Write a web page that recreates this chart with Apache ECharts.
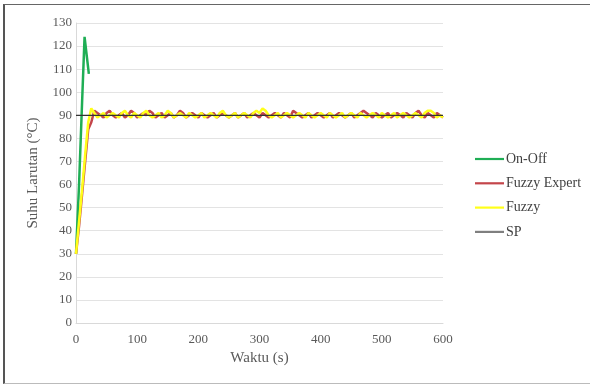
<!DOCTYPE html>
<html>
<head>
<meta charset="utf-8">
<script src="https://cdn.jsdelivr.net/npm/echarts@6/dist/echarts.min.js"></script>
<style>
  html, body { margin: 0; padding: 0; background: #fff; }
  #frame { position: absolute; left: 3px; top: 4px; width: 620px; height: 378px;
           border-left: 2px solid #555; border-top: 1px solid #666; border-bottom: 1px solid #bbb; }
  #chart { position: absolute; left: 0; top: 0; width: 590px; height: 385px; }
</style>
</head>
<body>
<div id="frame"></div>
<div id="chart"></div>
<script>
// Temperature response of the solution (°C) over time (s)
const seriesNames = ['On-Off', 'Fuzzy Expert', 'Fuzzy', 'SP'];
const setPoint = 90;
const yTicks = [0, 130, 10];   // min, max, interval
const xTicks = [0, 600, 100];

// On-Off controller: [time s, temperature °C]
const onOffTime = [0, 5, 10, 14, 21];
const onOffTemp = [30, 60, 96, 124, 108];

// Fuzzy Expert and Fuzzy controllers, sampled every 5 s from 0 to 600 s
const sampleStep = 5;
const fuzzyExpertTemp = [
  30, 42, 56, 70, 84, 87, 92, 91, 90, 89, 91, 92, 90, 89, 90, 91, 89, 90, 92, 91,
  89, 90, 91, 90, 92, 91, 89, 90, 91, 89, 90, 91, 89, 90, 92, 91, 89, 90, 91, 90,
  89, 91, 90, 89, 90, 91, 89, 90, 91, 90, 89, 90, 91, 89, 90, 91, 89, 90, 91, 90,
  89, 91, 90, 89, 90, 91, 90, 89, 91, 90, 89, 92, 91, 90, 89, 90, 91, 89, 90, 91,
  90, 89, 90, 91, 89, 90, 91, 90, 89, 90, 91, 89, 90, 91, 92, 91, 90, 89, 91, 90,
  89, 90, 91, 89, 90, 91, 90, 89, 91, 90, 89, 91, 92, 90, 89, 91, 90, 89, 91, 90,
  89
];
const fuzzyTemp = [
  30, 44, 58, 73, 87, 93, 91, 89, 90, 91, 89, 90, 91, 90, 89, 91, 92, 90, 89, 91,
  90, 89, 91, 92, 90, 89, 90, 91, 89, 90, 92, 91, 89, 90, 91, 90, 89, 91, 90, 89,
  90, 91, 89, 90, 91, 90, 89, 91, 92, 90, 89, 90, 91, 89, 90, 91, 90, 89, 91, 92,
  91, 93, 92, 90, 89, 90, 91, 89, 90, 91, 90, 89, 90, 91, 90, 89, 91, 90, 89, 90,
  91, 90, 89, 91, 90, 89, 90, 91, 89, 90, 91, 90, 89, 91, 90, 89, 90, 91, 90, 89,
  91, 90, 89, 90, 91, 89, 90, 91, 90, 89, 90, 91, 90, 89, 91, 92, 92, 91, 89, 90,
  89
];

const pairs = (vals) => vals.map((v, i) => [i * sampleStep, v]);
const onOffData = onOffTime.map((t, i) => [t, onOffTemp[i]]);
const spData = [[xTicks[0], setPoint], [xTicks[1], setPoint]];

const serif = 'Liberation Serif';
const chart = echarts.init(document.getElementById('chart'), null, { renderer: 'canvas' });
chart.setOption({
  animation: false,
  backgroundColor: 'transparent',
  grid: { left: 76, right: 147, top: 23, bottom: 62, containLabel: false },
  legend: {
    orient: 'vertical', left: 475, top: 152, padding: 0,
    itemWidth: 29, itemHeight: 14, itemGap: 10.3,
    icon: 'path://M0,0 L29,0 L29,2.2 L0,2.2 Z',
    textStyle: { fontFamily: serif, fontSize: 14, color: '#404040', padding: [0, 0, 0, -3] },
    data: seriesNames
  },
  xAxis: {
    type: 'value', min: xTicks[0], max: xTicks[1], interval: xTicks[2],
    name: 'Waktu (s)', nameLocation: 'middle', nameGap: 27,
    nameTextStyle: { fontFamily: serif, fontSize: 15, color: '#595959' },
    axisLine: { show: true, lineStyle: { color: '#d9d9d9', width: 1 } },
    axisTick: { show: false },
    axisLabel: { fontFamily: serif, fontSize: 13, color: '#595959', margin: 10 },
    splitLine: { show: false }
  },
  yAxis: {
    type: 'value', min: yTicks[0], max: yTicks[1], interval: yTicks[2],
    name: 'Suhu Larutan (°C)', nameLocation: 'middle', nameGap: 35,
    nameTextStyle: { fontFamily: serif, fontSize: 15, color: '#595959' },
    axisLine: { show: true, lineStyle: { color: '#d9d9d9', width: 1 } },
    axisTick: { show: false },
    axisLabel: { fontFamily: serif, fontSize: 13, color: '#595959', margin: 4 },
    splitLine: { show: true, lineStyle: { color: '#e3e3e3', width: 1 } }
  },
  series: [
    { name: 'On-Off', type: 'line', data: onOffData, showSymbol: false, symbol: 'none',
      lineStyle: { color: '#1fae55', width: 2.5 }, itemStyle: { color: '#1fae55' } },
    { name: 'Fuzzy Expert', type: 'line', data: pairs(fuzzyExpertTemp), showSymbol: false, symbol: 'none',
      lineStyle: { color: '#c4454a', width: 2.5 }, itemStyle: { color: '#c4454a' } },
    { name: 'Fuzzy', type: 'line', data: pairs(fuzzyTemp), showSymbol: false, symbol: 'none',
      lineStyle: { color: '#ffff1a', width: 2.5 }, itemStyle: { color: '#ffff1a' } },
    { name: 'SP', type: 'line', data: spData, showSymbol: false, symbol: 'none',
      lineStyle: { color: '#333333', width: 1.2 }, itemStyle: { color: '#7f7f7f' } }
  ]
});
</script>
</body>
</html>
